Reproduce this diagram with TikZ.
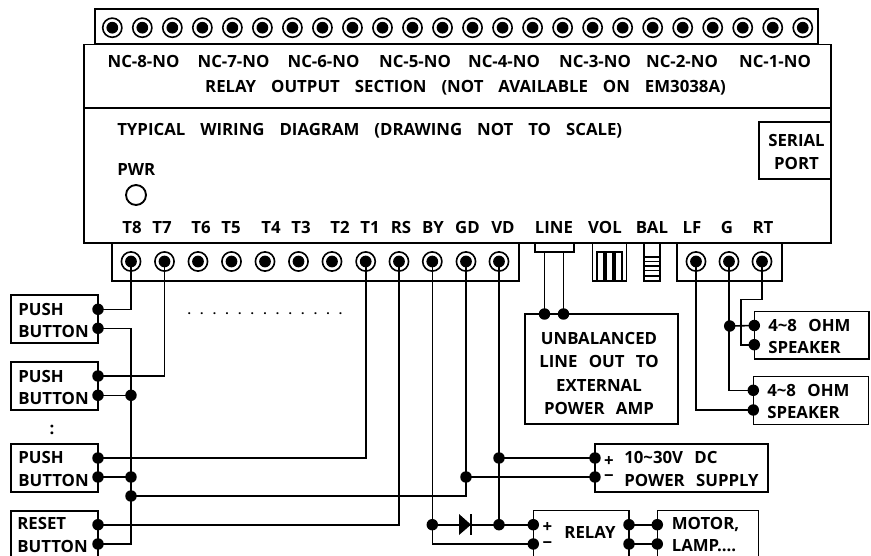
\documentclass[tikz,border=0pt]{standalone}
\usepackage{fontspec}
\setmainfont[WordSpace=1.3]{Open Sans}
\usepackage{xcolor}
\usepackage{tikz}
\newcommand{\widegap}{\ \ \hspace{2.7pt}}
\tikzset{
  box/.style={draw,line width=1.2pt},
  wire/.style={line width=1.2pt},
  lbl/.style={inner sep=0pt,font=\fontsize{12.6pt}{13pt}\selectfont\bfseries},
  blbl/.style={inner sep=0pt,align=center,font=\fontsize{12.6pt}{17pt}\selectfont\bfseries},
  llbl/.style={inner sep=0pt,align=left,font=\fontsize{12.6pt}{17pt}\selectfont\bfseries},
  term/.style={circle,fill=black,minimum size=8.8pt,inner sep=0pt},
  jn/.style={circle,fill=black,minimum size=8.6pt,inner sep=0pt},
}
\begin{document}
\begin{tikzpicture}[x=0.75pt,y=0.75pt,yscale=-1,xscale=1]
\useasboundingbox (0,0) rectangle (871,556);
% housing
\draw [box] (95,9) rectangle (818,44);
\draw [box] (84,44.5) rectangle (831,243);
\draw [box] (84,108) -- (831,108);
\draw [box] (759,122) rectangle (831,179);
% upper terminals
\foreach \i in {0,...,23} {
  \node [term] (r\i) at ({112.3+30.02*\i},27.7) {};
  \draw [line width=1.2pt] (r\i) circle (9.6);
}
% lower strips
\draw [box] (112,243) -- (112,281) -- (519,281) -- (519,243);
\draw [box] (677,243) -- (677,281) -- (782,281) -- (782,243);
\draw [box] (535,243) -- (535,252) -- (574,252) -- (574,243);
\draw [box] (592.5,243) -- (592.5,281) -- (626.5,281) -- (626.5,243);
\draw [box] (644,243) -- (644,281) -- (660,281) -- (660,243);
\foreach \x in {597,606,615} { \draw [line width=1pt] (\x,281) -- (\x,252) -- ++(7,0) -- ++(0,29); }
\foreach \y in {257,261.5,266,270.5,276} { \draw [line width=1pt] (644,\y) -- (660,\y); }
% housing texts
\node [lbl] (nc8) at (143.5,61) {NC-8-NO};
\node [lbl] (nc7) at (233.5,61) {NC-7-NO};
\node [lbl] (nc6) at (323.5,61) {NC-6-NO};
\node [lbl] (nc5) at (415,61) {NC-5-NO};
\node [lbl] (nc4) at (504,61) {NC-4-NO};
\node [lbl] (nc3) at (595,61) {NC-3-NO};
\node [lbl] (nc2) at (682,61) {NC-2-NO};
\node [lbl] (nc1) at (775,61) {NC-1-NO};
\node [lbl] (relsec) at (465.5,88) {RELAY\widegap OUTPUT\widegap SECTION\widegap (NOT\widegap AVAILABLE\widegap ON\widegap EM3038A)};
\node [lbl,anchor=west] (title) at (117,130.5) {TYPICAL\widegap WIRING\widegap DIAGRAM\widegap (DRAWING\widegap NOT\widegap TO\widegap SCALE)};
\node [lbl,anchor=west] (pwr) at (117,170) {PWR};
\draw [line width=1.4pt] (136,195) circle (10);
\node [blbl] (serial) at (796.5,152) {SERIAL\\PORT};
\node [lbl] (t8) at (132,227.5) {T8};
\node [lbl] (t7) at (162,227.5) {T7};
\node [lbl] (t6) at (201,227.5) {T6};
\node [lbl] (t5) at (231,227.5) {T5};
\node [lbl] (t4) at (271,227.5) {T4};
\node [lbl] (t3) at (301,227.5) {T3};
\node [lbl] (t2) at (340,227.5) {T2};
\node [lbl] (t1) at (370,227.5) {T1};
\node [lbl] (trs) at (401,227.5) {RS};
\node [lbl] (tby) at (433,227.5) {BY};
\node [lbl] (tgd) at (467.5,227.5) {GD};
\node [lbl] (tvd) at (503,227.5) {VD};
\node [lbl] (tline) at (554,227.5) {LINE};
\node [lbl] (tvol) at (605,227.5) {VOL};
\node [lbl] (tbal) at (652,227.5) {BAL};
\node [lbl] (tlf) at (692,227.5) {LF};
\node [lbl] (tg) at (727,227.5) {G};
\node [lbl] (trt) at (763,227.5) {RT};
% external boxes
\draw [box] (11,295) rectangle (98,343);
\draw [box] (11,362) rectangle (98,410);
\draw [box] (11,444) rectangle (98,492);
\draw [box] (11,560) -- (11,511) -- (98,511) -- (98,560);
\draw [box] (525,314) rectangle (678,424);
\draw [box] (754.3,311.5) rectangle (869,359);
\draw [box] (753.3,376.3) rectangle (868.3,424.3);
\draw [box] (595,444) rectangle (767.7,492);
\draw [box] (533.3,560) -- (533.3,510.5) -- (629,510.5) -- (629,560);
\draw [box] (657.3,560) -- (657.3,510.5) -- (758.3,510.5) -- (758.3,560);
\node [llbl,anchor=west] (pb1) at (18,320.5) {PUSH\\BUTTON};
\node [llbl,anchor=west] (pb2) at (18,387.5) {PUSH\\BUTTON};
\node [lbl] (dots) at (52,430) {:};
\node [llbl,anchor=west] (pb3) at (18,469) {PUSH\\BUTTON};
\node [llbl,anchor=west] (pb4) at (17,535) {RESET\\BUTTON};
\node [inner sep=0pt,align=center,font=\fontsize{12.6pt}{17.3pt}\selectfont\bfseries] (unbal) at (599,373.5) {UNBALANCED\\LINE\ \ OUT\ \ TO\\EXTERNAL\\POWER\ \ AMP};
\node [llbl,anchor=west] (spk1) at (768,336.5) {4\textasciitilde 8\ \ OHM\\SPEAKER};
\node [llbl,anchor=west] (spk2) at (767,401.5) {4\textasciitilde 8\ \ OHM\\SPEAKER};
\node [llbl,anchor=west] (psu) at (624,469) {10\textasciitilde 30V\ \ DC\\POWER\ \ SUPPLY};
\node [lbl] (plus) at (609,461) {+};
\node [lbl] (minus) at (609,478) {−};
\node [lbl] (rplus) at (547.5,527.5) {+};
\node [lbl] (rminus) at (547.5,545) {−};
\node [lbl] (relay) at (590,532.7) {RELAY};
\node [llbl,anchor=west] (motor) at (671.5,534.5) {MOTOR,\\LAMP....};
\node [inner sep=0pt,font=\fontsize{9pt}{10pt}\selectfont\bfseries] (ellip) at (265,314) {.\hspace{6.9pt}.\hspace{6.9pt}.\hspace{6.9pt}.\hspace{6.9pt}.\hspace{6.9pt}.\hspace{6.9pt}.\hspace{6.9pt}.\hspace{6.9pt}.\hspace{6.9pt}.\hspace{6.9pt}.\hspace{6.9pt}.\hspace{6.9pt}.};
% lower terminals
\foreach \n/\x in {t8/131,t7/164.5,a/198,b/231.5,c/265,d/298.5,e/332,t1/365.7,rs/399,by/432.3,gd/466,vd/499,lf/696,g/729,rt/762} {
  \node [term] (p\n) at (\x,261.5) {};
  \draw [line width=1.2pt] (p\n) circle (9.6);
}
% junctions
\foreach \n/\x/\y in {a1/98/309.3,a2/98/328.3,b1/98/376,b2/98/395.3,c1/98/458,c2/98/477,d1/98/524.7,d2/98/544,e2/131/395.3,e3/131/477,e4/131/496,
  l1/544.5/314,l2/563.5/314,sj/729.7/326,q1/754.3/325.5,q2/754.3/344.7,q3/753.3/390.3,q4/753.3/410,v1/499/458,v2/466/477,p1/595/458,p2/595/477,
  bj/432.3/524.7,vj/499/524.7,r1/533.3/524.7,r2/533.3/544,r3/629/524.7,r4/629/544,m1/657.3/524.7,m2/657.3/544} {
  \node [jn] (\n) at (\x,\y) {};
}
% wires
\draw [wire] (pt8.center) |- (a1.center);
\draw [wire] (pt7.center) |- (b1.center);
\draw [wire] (a2.center) -| (e2.center);
\draw [wire] (b2.center) -- (e2.center);
\draw [wire] (e2.center) -- (e3.center) -- (e4.center);
\draw [wire] (c2.center) -- (e3.center);
\draw [wire] (pt1.center) |- (c1.center);
\draw [wire] (e4.center) -| (v2.center);
\draw [wire] (prs.center) |- (d1.center);
\draw [wire] (e4.center) |- (d2.center);
\draw [wire] (pby.center) -- (bj.center);
\draw [wire] (pgd.center) -- (v2.center);
\draw [wire] (pvd.center) -- (v1.center) -- (vj.center);
\draw [wire] (v1.center) -- (p1.center);
\draw [wire] (v2.center) -- (p2.center);
\draw [wire] (bj.center) |- (r2.center);
\draw [wire] (bj.center) -- (r1.center);
\draw [wire] (r3.center) -- (m1.center);
\draw [wire] (r4.center) -- (m2.center);
\draw [wire] (l1.center) -- (544.5,252);
\draw [wire] (l2.center) -- (563.5,252);
\draw [wire] (prt.center) -- (762,299.3) -- (740.7,299.3) |- (q2.center);
\draw [wire] (pg.center) |- (q3.center);
\draw [wire] (sj.center) -- (q1.center);
\draw [wire] (plf.center) |- (q4.center);
% diode
\fill (459,514) -- (471,524.7) -- (459,535) -- cycle;
\draw [wire] (471,514) -- (471,535);
\end{tikzpicture}
\end{document}
